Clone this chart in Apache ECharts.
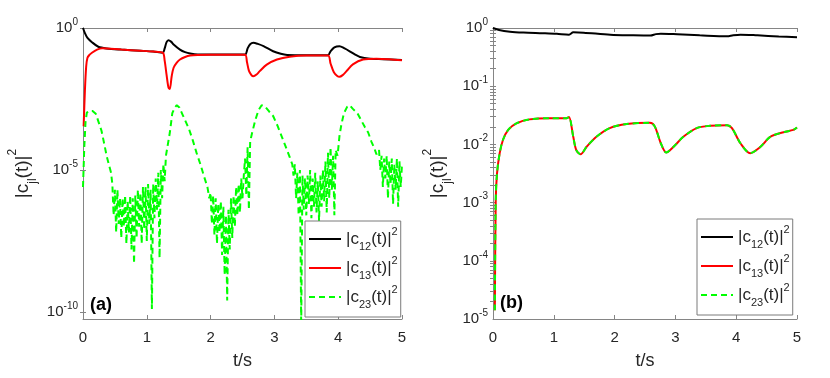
<!DOCTYPE html>
<html>
<head>
<meta charset="utf-8">
<script src="https://cdn.jsdelivr.net/npm/echarts@6/dist/echarts.min.js"></script>
<style>
  html, body { margin: 0; padding: 0; background: #fff; }
  #chart { width: 830px; height: 378px; }
</style>
</head>
<body>
<div id="chart"></div>
<script>
// values are log10 of |c|^2

// (a) |c12|^2
const tBlackA = [0, 0.03, 0.07, 0.14, 0.24, 0.37, 0.6, 0.9, 1.1, 1.25,
  1.28, 1.31, 1.34, 1.38, 1.42, 1.52, 1.6, 1.68, 1.8, 2.0,
  2.3, 2.54, 2.58, 2.62, 2.67, 2.74, 2.83, 2.98, 3.1, 3.2,
  3.5, 3.84, 3.88, 3.94, 4.02, 4.1, 4.18, 4.26, 4.34, 4.5,
  4.7, 5.0]
const logBlackA = [0, -0.18, -0.35, -0.5, -0.66, -0.72, -0.76, -0.8, -0.83, -0.87,
  -0.72, -0.5, -0.43, -0.48, -0.58, -0.76, -0.85, -0.9, -0.93, -0.93,
  -0.93, -0.93, -0.72, -0.57, -0.52, -0.56, -0.64, -0.82, -0.91, -0.95,
  -0.96, -0.96, -0.82, -0.68, -0.64, -0.72, -0.82, -0.93, -1.02, -1.08,
  -1.1, -1.13]

// (a) |c13|^2
const tRedA = [0.01, 0.03, 0.05, 0.07, 0.1, 0.14, 0.22, 0.3, 0.6, 0.9,
  1.1, 1.25, 1.28, 1.31, 1.34, 1.36, 1.39, 1.42, 1.47, 1.52,
  1.6, 1.68, 1.8, 2.0, 2.3, 2.54, 2.57, 2.6, 2.64, 2.67,
  2.72, 2.77, 2.88, 3.04, 3.24, 3.5, 3.84, 3.88, 3.93, 3.98,
  4.02, 4.07, 4.13, 4.23, 4.39, 4.6, 4.8, 5.0]
const logRedA = [-3.46, -2.2, -1.35, -1.05, -0.95, -0.87, -0.76, -0.71, -0.76, -0.8,
  -0.83, -0.87, -1.15, -1.65, -2.1, -2.15, -1.7, -1.4, -1.22, -1.11,
  -1.02, -0.97, -0.95, -0.94, -0.94, -0.94, -1.2, -1.5, -1.66, -1.7,
  -1.64, -1.52, -1.29, -1.11, -1.01, -0.97, -0.97, -1.25, -1.55, -1.68,
  -1.72, -1.66, -1.52, -1.28, -1.11, -1.08, -1.1, -1.14]

// (a) |c23|^2
const tGreenA = [0, 0.02, 0.04, 0.06, 0.10, 0.15, 0.20, 0.25, 0.29, 0.33,
  0.37, 0.41, 0.44, 0.46, 0.48, 0.50, 0.52, 0.54, 0.56, 0.58,
  0.60, 0.62, 0.64, 0.66, 0.68, 0.70, 0.72, 0.74, 0.76, 0.78,
  0.80, 0.82, 0.84, 0.86, 0.88, 0.90, 0.92, 0.94, 0.96, 0.98,
  1.00, 1.02, 1.04, 1.06, 1.08, 1.10, 1.12, 1.14, 1.16, 1.18,
  1.20, 1.22, 1.24, 1.26, 1.28, 1.30, 1.33, 1.36, 1.40, 1.44,
  1.47, 1.51, 1.56, 1.61, 1.66, 1.72, 1.78, 1.84, 1.90, 1.95,
  1.98, 2.00, 2.02, 2.04, 2.06, 2.08, 2.10, 2.12, 2.14, 2.16,
  2.18, 2.20, 2.22, 2.24, 2.26, 2.28, 2.30, 2.32, 2.34, 2.36,
  2.38, 2.40, 2.42, 2.44, 2.46, 2.48, 2.50, 2.52, 2.54, 2.56,
  2.58, 2.60, 2.62, 2.65, 2.70, 2.75, 2.80, 2.85, 2.92, 2.98,
  3.05, 3.12, 3.18, 3.24, 3.28, 3.30, 3.32, 3.34, 3.36, 3.38,
  3.40, 3.42, 3.44, 3.46, 3.48, 3.50, 3.52, 3.54, 3.56, 3.58,
  3.60, 3.62, 3.64, 3.66, 3.68, 3.70, 3.72, 3.74, 3.76, 3.78,
  3.80, 3.82, 3.84, 3.86, 3.88, 3.90, 3.92, 3.94, 3.96, 3.99,
  4.02, 4.05, 4.09, 4.14, 4.18, 4.23, 4.30, 4.36, 4.42, 4.47,
  4.52, 4.56, 4.60, 4.64, 4.66, 4.68, 4.70, 4.72, 4.74, 4.76,
  4.78, 4.80, 4.82, 4.84, 4.86, 4.88, 4.90, 4.92, 4.94, 4.96,
  4.98, 5.00]
const logGreenA = [-5.6, -4.2, -3.3, -2.98, -2.92, -2.92, -3.02, -3.35, -3.62, -4.05,
  -4.5, -4.85, -5.1, -5.5, -6.6, -5.7, -7.2, -5.7, -6.9, -6.0,
  -7.4, -6.0, -7.0, -5.9, -7.6, -6.1, -7.2, -5.9, -7.8, -6.0,
  -8.3, -5.9, -7.4, -5.7, -7.0, -5.8, -7.6, -5.6, -7.1, -5.6,
  -7.5, -5.5, -6.9, -5.7, -9.9, -5.5, -6.7, -5.3, -6.4, -5.1,
  -8.1, -5.0, -6.0, -4.8, -5.4, -4.5, -4.1, -3.7, -3.0, -2.8,
  -2.72, -2.8, -3.05, -3.3, -3.55, -3.95, -4.4, -4.8, -5.25, -5.6,
  -6.0, -5.8, -6.9, -5.9, -7.3, -6.0, -7.6, -6.2, -7.2, -6.1,
  -8.0, -6.3, -8.7, -6.6, -9.6, -6.4, -7.8, -6.0, -7.4, -5.9,
  -7.0, -5.6, -6.6, -5.5, -6.5, -5.3, -6.0, -5.2, -4.6, -5.9,
  -4.2, -6.4, -4.0, -3.7, -3.25, -2.9, -2.72, -2.76, -2.95, -3.1,
  -3.45, -3.85, -4.2, -4.55, -4.8, -5.2, -4.8, -6.0, -5.1, -6.6,
  -5.0, -10.5, -5.2, -6.4, -5.3, -6.6, -5.2, -6.2, -5.0, -6.7,
  -5.3, -6.3, -5.1, -6.5, -5.4, -6.8, -5.2, -6.3, -5.0, -6.1,
  -4.7, -6.5, -4.4, -6.0, -4.2, -5.7, -4.5, -6.6, -4.3, -4.5,
  -3.8, -3.4, -3.0, -2.78, -2.72, -2.85, -3.0, -3.25, -3.5, -3.68,
  -4.0, -4.2, -4.45, -4.3, -5.0, -4.5, -5.6, -4.6, -5.3, -4.5,
  -6.0, -4.7, -5.5, -4.6, -6.2, -4.8, -5.7, -4.6, -6.3, -4.7,
  -5.6, -4.8]

// (b) |c12|^2
const tBlackB = [0, 0.1, 0.28, 0.5, 0.82, 1.05, 1.25, 1.32, 1.49, 1.93,
  2.3, 2.59, 2.68, 2.76, 3.03, 3.4, 3.85, 3.95, 4.07, 4.35,
  4.7, 5.0]
const logBlackB = [0, -0.035, -0.063, -0.078, -0.09, -0.1, -0.114, -0.074, -0.08, -0.114,
  -0.125, -0.13, -0.105, -0.097, -0.107, -0.125, -0.143, -0.125, -0.114, -0.126,
  -0.145, -0.16]

// (b) |c13|^2 and |c23|^2 (the two curves coincide)
const tMixB = [0.03, 0.045, 0.066, 0.11, 0.165, 0.25, 0.385, 0.6, 0.93, 1.21,
  1.25, 1.32, 1.37, 1.44, 1.54, 1.7, 1.92, 2.2, 2.58, 2.66,
  2.76, 2.85, 2.97, 3.13, 3.35, 3.57, 3.85, 3.93, 4.07, 4.23,
  4.4, 4.56, 4.78, 4.94, 5.0]
const logMixB = [-4.85, -2.96, -2.5, -2.15, -1.92, -1.75, -1.64, -1.57, -1.55, -1.55,
  -1.53, -1.87, -2.1, -2.17, -2.04, -1.87, -1.72, -1.65, -1.63, -1.69,
  -1.98, -2.14, -2.04, -1.87, -1.72, -1.68, -1.67, -1.72, -1.98, -2.15,
  -2.04, -1.87, -1.79, -1.75, -1.71]

// axis ticks
const xTicks = [0, 1, 2, 3, 4, 5]
const yTicksA = [1e-10, 1e-5, 1]
const decadesB = [1e-5, 1e-4, 1e-3, 1e-2, 1e-1]
const minorMult = [1, 2, 3, 4, 5, 6, 7, 8, 9]
const seriesNames = ['c12', 'c13', 'c23']
const legendLabels = {
  c12: '|c{sub|12}(t)|{sup|2}',
  c13: '|c{sub|13}(t)|{sup|2}',
  c23: '|c{sub|23}(t)|{sup|2}'
}

const FONT = '"Liberation Sans", Arial, Helvetica, sans-serif'
const AXC = '#858585'
const TXT = '#262626'

// tick marks of panel (b): every m * 10^k inside the axis
const ticksB = []
decadesB.forEach(d => minorMult.forEach(m => {
  if (m > 1 || d > 1e-5) ticksB.push(m * d)
}))

const toPts = (t, lg) => t.map((x, i) => [x, Math.pow(10, lg[i])])

const powLabel = v => '{b|10}{s|' + Math.round(Math.log10(v)) + '}'
const tickRich = {
  b: { fontSize: 15, lineHeight: 22, color: TXT, fontFamily: FONT },
  s: { fontSize: 10, lineHeight: 10, verticalAlign: 'top', color: TXT, fontFamily: FONT }
}
const nameRich = {
  sub: { fontSize: 12, lineHeight: 20, verticalAlign: 'bottom', color: TXT, fontFamily: FONT },
  sup: { fontSize: 12, lineHeight: 14, verticalAlign: 'top', color: TXT, fontFamily: FONT }
}
const legRich = {
  sub: { fontSize: 11, lineHeight: 14, verticalAlign: 'bottom', color: TXT, fontFamily: FONT },
  sup: { fontSize: 11, lineHeight: 12, verticalAlign: 'top', color: TXT, fontFamily: FONT }
}

const axisLine = { show: true, lineStyle: { color: AXC, width: 1 } }

function xAxes(grid) {
  return [{
    gridIndex: grid, type: 'value', min: 0, max: 5, position: 'bottom',
    axisLine: axisLine,
    axisTick: { inside: true, length: 4, lineStyle: { color: AXC }, customValues: xTicks },
    axisLabel: { customValues: xTicks, fontSize: 15, color: TXT, fontFamily: FONT, margin: 11 },
    splitLine: { show: false },
    name: 't/s', nameLocation: 'middle', nameGap: 33,
    nameTextStyle: { fontSize: 18, color: TXT, fontFamily: FONT }
  }, {
    gridIndex: grid, type: 'value', min: 0, max: 5, position: 'top',
    axisLine: axisLine,
    axisTick: { inside: true, length: 4, lineStyle: { color: AXC }, customValues: xTicks },
    axisLabel: { show: false },
    splitLine: { show: false }
  }]
}

function yAxis(grid, pos, min, ticks, opts) {
  return Object.assign({
    gridIndex: grid, type: 'log', logBase: 10, min: min, max: 1, position: pos,
    axisLine: axisLine,
    axisTick: { inside: true, length: 3, lineStyle: { color: AXC }, customValues: ticks },
    axisLabel: { show: false },
    splitLine: { show: false },
    minorTick: { show: false }
  }, opts)
}

const yName = {
  name: '|c{sub|jl}(t)|{sup|2}', nameLocation: 'middle',
  nameTextStyle: { fontSize: 19, lineHeight: 32, color: TXT, fontFamily: FONT, rich: nameRich }
}

const minA = 5.6e-11

function line(name, xi, yi, data, color, dashed, smooth) {
  return {
    name: name, type: 'line', xAxisIndex: xi, yAxisIndex: yi,
    data: data, symbol: 'none', smooth: smooth, animation: false,
    lineStyle: { color: color, width: 2, type: dashed ? [6, 4] : 'solid' },
    itemStyle: { color: color }
  }
}

function legend(left, top) {
  return {
    data: seriesNames, orient: 'vertical', left: left, top: top,
    padding: [5, 3, 7, 3], itemGap: 3, itemWidth: 32, itemHeight: 14,
    backgroundColor: '#fff', borderColor: '#7a7a7a', borderWidth: 1,
    selectedMode: false,
    itemStyle: { opacity: 0 },
    formatter: n => legendLabels[n],
    textStyle: { fontSize: 17, lineHeight: 26, color: TXT, fontFamily: FONT, rich: legRich }
  }
}

const chart = echarts.init(document.getElementById('chart'), null, { renderer: 'canvas' })

chart.setOption({
  animation: false,
  backgroundColor: '#fff',
  grid: [
    { left: 83, top: 28, width: 319, height: 291 },
    { left: 493, top: 28, width: 304, height: 291 }
  ],
  xAxis: [...xAxes(0), ...xAxes(1)],
  yAxis: [
    yAxis(0, 'left', minA, yTicksA, Object.assign({
      axisLabel: { customValues: yTicksA, formatter: powLabel, rich: tickRich, margin: 5 },
      nameGap: 44
    }, yName)),
    yAxis(0, 'right', minA, yTicksA, {}),
    yAxis(1, 'left', 1e-5, ticksB, Object.assign({
      axisLabel: { formatter: powLabel, rich: tickRich, margin: 5 },
      nameGap: 39
    }, yName)),
    yAxis(1, 'right', 1e-5, ticksB, {})
  ],
  legend: [legend(305, 221), legend(697, 219)],
  graphic: [
    { type: 'text', left: 90, top: 296, z: 10,
      style: { text: '(a)', font: 'bold 18px ' + FONT, fill: '#000' } },
    { type: 'text', left: 500, top: 294, z: 10,
      style: { text: '(b)', font: 'bold 18px ' + FONT, fill: '#000' } }
  ],
  series: [
    line('c12', 0, 0, toPts(tBlackA, logBlackA), '#000000', false, 0.3),
    line('c13', 0, 0, toPts(tRedA, logRedA), '#ff0000', false, 0.3),
    line('c23', 0, 0, toPts(tGreenA, logGreenA), '#00ff00', true, false),
    line('c12', 2, 2, toPts(tBlackB, logBlackB), '#000000', false, 0.3),
    line('c13', 2, 2, toPts(tMixB, logMixB), '#ff0000', false, 0.3),
    line('c23', 2, 2, toPts(tMixB, logMixB), '#00ff00', true, 0.3)
  ]
})
</script>
</body>
</html>
